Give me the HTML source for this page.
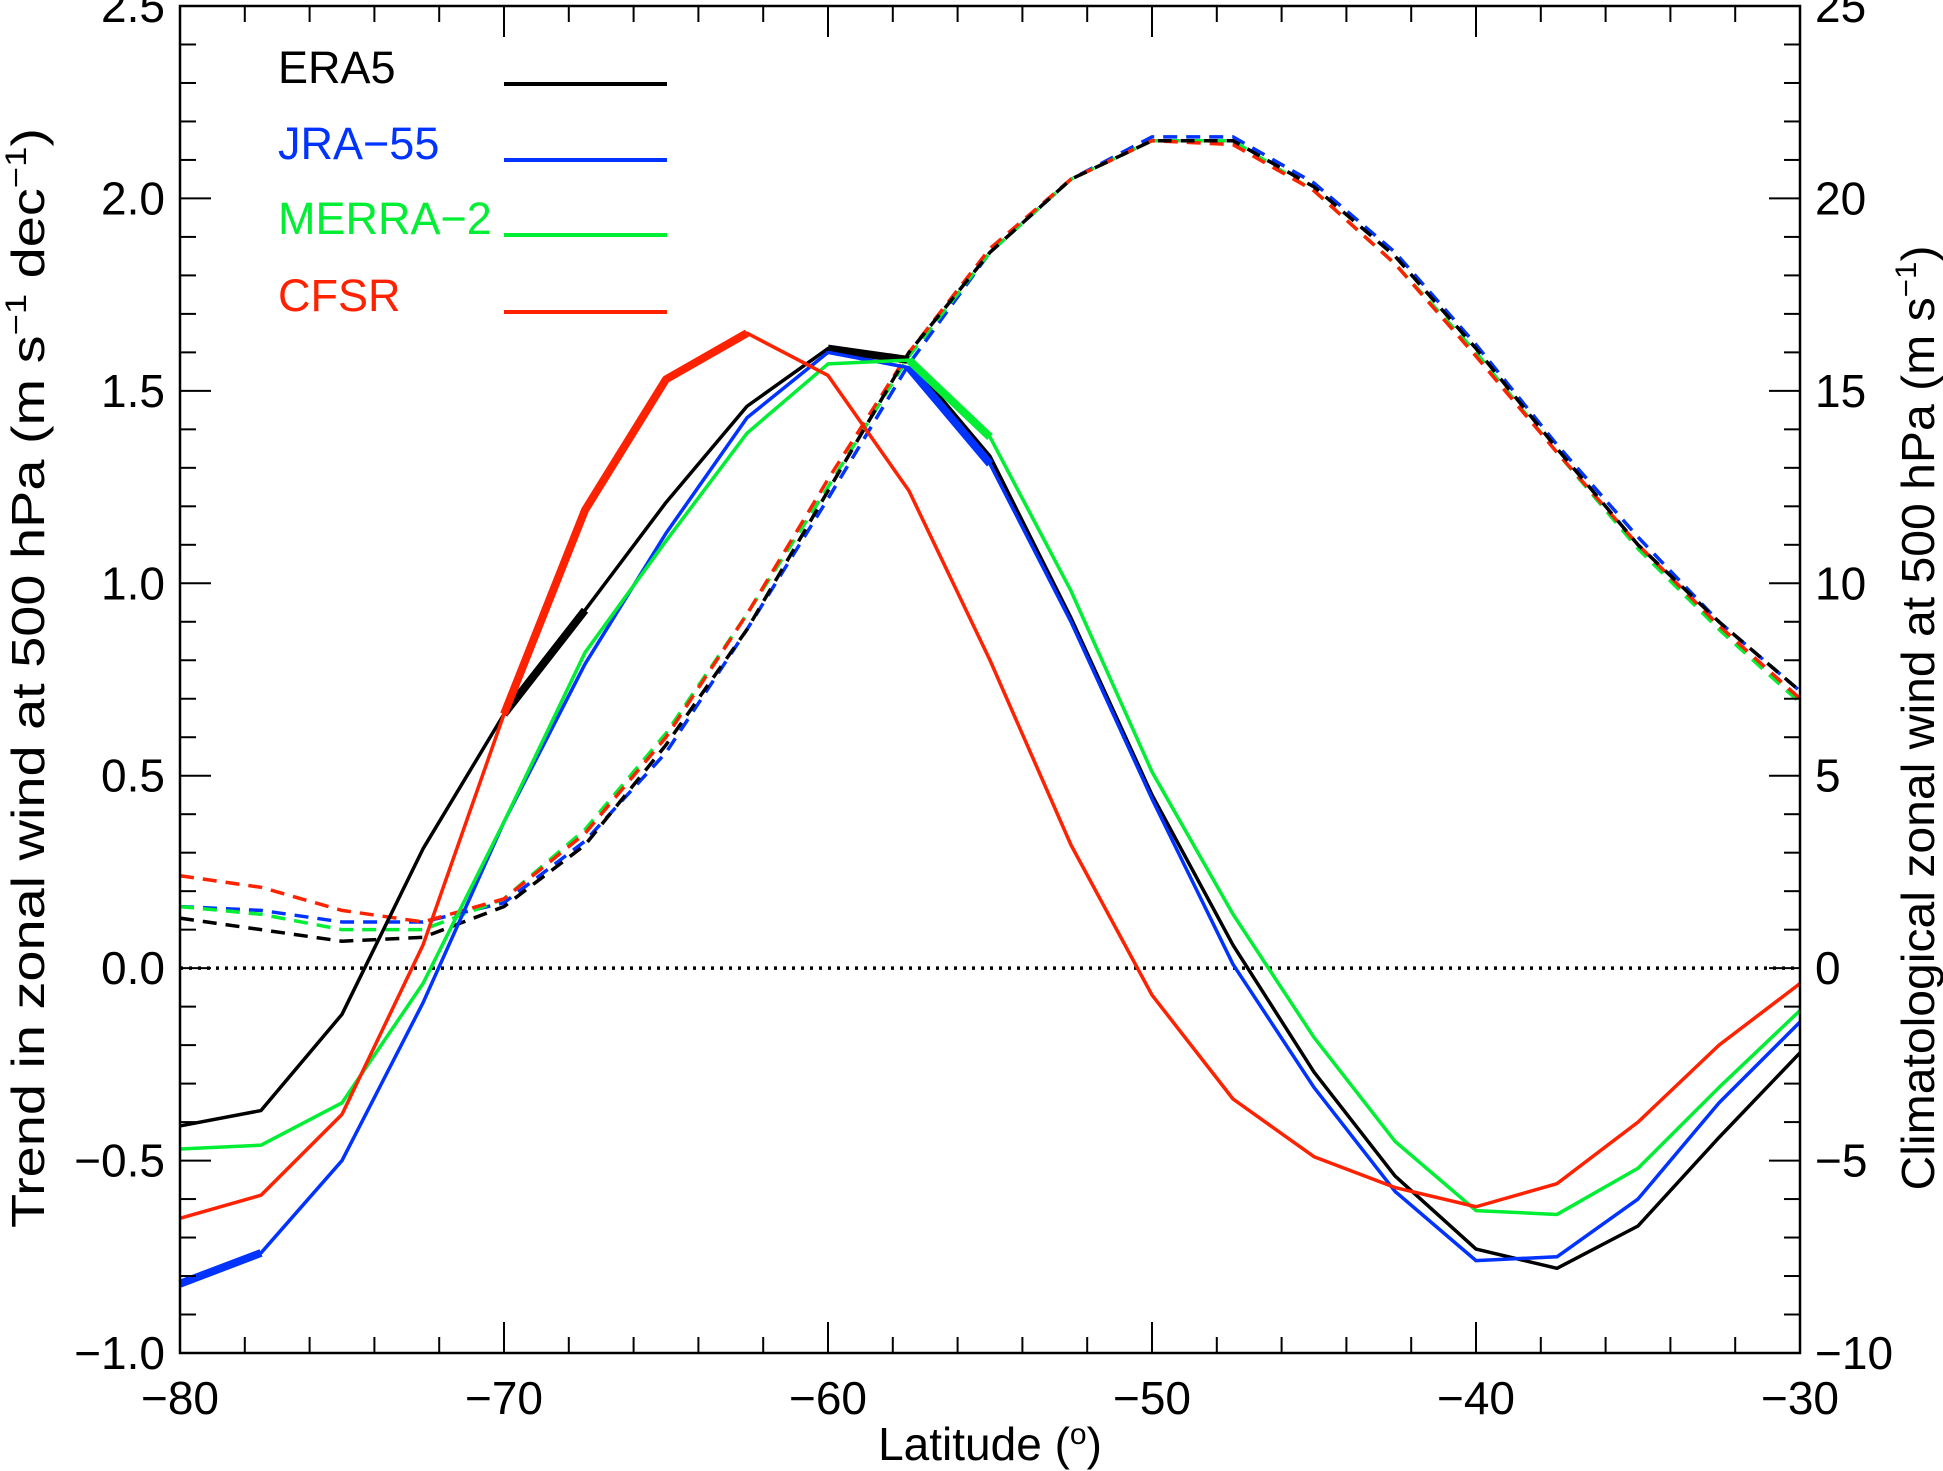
<!DOCTYPE html>
<html><head><meta charset="utf-8"><style>
html,body{margin:0;padding:0;background:#fff}
svg{display:block;font-family:"Liberation Sans",sans-serif}
</style></head><body>
<svg id="chart" width="1943" height="1471" viewBox="0 0 1943 1471" xmlns="http://www.w3.org/2000/svg">
</svg>
<script>
const lats = [-80,-77.5,-75,-72.5,-70,-67.5,-65,-62.5,-60,-57.5,-55,-52.5,-50,-47.5,-45,-42.5,-40,-37.5,-35,-32.5,-30];
const names = ["ERA5","JRA-55","MERRA-2","CFSR"];
const colors = ["#000000","#0033ff","#00ee33","#ff2200"];
const trendERA5 = [-0.41,-0.37,-0.12,0.31,0.66,0.93,1.21,1.46,1.61,1.58,1.33,0.91,0.45,0.06,-0.27,-0.54,-0.73,-0.78,-0.67,-0.44,-0.22];
const trendJRA = [-0.82,-0.74,-0.50,-0.09,0.38,0.79,1.13,1.43,1.60,1.56,1.31,0.90,0.44,0.01,-0.31,-0.58,-0.76,-0.75,-0.60,-0.35,-0.14];
const trendMERRA = [-0.47,-0.46,-0.35,-0.04,0.38,0.82,1.11,1.39,1.57,1.58,1.38,0.98,0.51,0.14,-0.18,-0.45,-0.63,-0.64,-0.52,-0.31,-0.11];
const trendCFSR = [-0.65,-0.59,-0.38,0.06,0.66,1.19,1.53,1.65,1.54,1.24,0.80,0.32,-0.07,-0.34,-0.49,-0.57,-0.62,-0.56,-0.40,-0.20,-0.04];
const climERA5 = [1.3,1.0,0.7,0.8,1.6,3.2,5.8,8.8,12.4,16.0,18.6,20.5,21.5,21.5,20.3,18.5,16.1,13.5,11.0,9.0,7.2];
const climJRA = [1.6,1.5,1.2,1.2,1.7,3.3,5.6,8.8,12.2,15.7,18.6,20.5,21.6,21.6,20.4,18.6,16.2,13.6,11.2,9.0,7.2];
const climMERRA = [1.6,1.4,1.0,1.0,1.8,3.6,6.1,9.2,12.5,15.9,18.6,20.5,21.5,21.5,20.2,18.3,16.0,13.4,10.9,8.8,6.9];
const climCFSR = [2.4,2.1,1.5,1.2,1.8,3.5,6.0,9.2,12.7,16.0,18.7,20.5,21.5,21.4,20.2,18.3,15.9,13.4,11.0,8.9,7.0];
const sigERA5 = [[4,5],[8,9]];
const sigJRA = [[0,1],[9,10]];
const sigMERRA = [[9,10]];
const sigCFSR = [[4,7]];
const xTicks = [-80,-70,-60,-50,-40,-30];
const yLeftTicks = ["-1.0","-0.5","0.0","0.5","1.0","1.5","2.0","2.5"];
const yRightTicks = [-10,-5,0,5,10,15,20,25];

const L=180,R=1800,T=6,B=1353;
const xS=v=>L+(v+80)/50*(R-L);
const yS=v=>B-(v+1)/3.5*(B-T);
const yR=v=>yS(v/10);
const NS="http://www.w3.org/2000/svg";
const svg=document.getElementById('chart');
function el(tag,attrs,parent){const e=document.createElementNS(NS,tag);for(const k in attrs)e.setAttribute(k,attrs[k]);(parent||svg).appendChild(e);return e;}

const z=el('line',{x1:L,x2:R,y1:yS(0),y2:yS(0),stroke:'#000','stroke-width':3.5,'stroke-dasharray':'3 6'});



const trends=[trendERA5,trendJRA,trendMERRA,trendCFSR];
const clims=[climERA5,climJRA,climMERRA,climCFSR];
const sigs=[sigERA5,sigJRA,sigMERRA,sigCFSR];
for(const i of [1,2,3,0]){
  const p=el('polyline',{points:lats.map((la,j)=>xS(la)+','+yR(clims[i][j])).join(' '),fill:'none',stroke:colors[i],'stroke-width':3.5,'stroke-dasharray':'14 9'});
  
  
}
for(const i of [0,1,2,3]){
  const p=el('polyline',{points:lats.map((la,j)=>xS(la)+','+yS(trends[i][j])).join(' '),fill:'none',stroke:colors[i],'stroke-width':3.5,'stroke-linejoin':'round'});
  
  
  for(const s of sigs[i]){
    const pts=[];for(let j=s[0];j<=s[1];j++)pts.push(xS(lats[j])+','+yS(trends[i][j]));
    const q=el('polyline',{points:pts.join(' '),fill:'none',stroke:colors[i],'stroke-width':8,'stroke-linejoin':'round'});
    
    
  }
}
const f=el('rect',{x:L,y:T,width:R-L,height:B-T,fill:'none',stroke:'#000','stroke-width':2.5});


for(let v=-80;v<=-30;v+=2){
  const maj=(v%10===0), len=maj?31:16;
  el('line',{x1:xS(v),x2:xS(v),y1:B,y2:B-len,stroke:'#000','stroke-width':2});
  el('line',{x1:xS(v),x2:xS(v),y1:T,y2:T+len,stroke:'#000','stroke-width':2});
}
for(const v of xTicks){
  const t=el('text',{x:xS(v),y:1414,'text-anchor':'middle','font-size':46});
  t.textContent=String(v).replace('-','\u2212');
  
  
}
for(let k=-10;k<=25;k++){
  const maj=(k%5===0), len=maj?31:16, y=yS(k/10);
  el('line',{x1:L,x2:L+len,y1:y,y2:y,stroke:'#000','stroke-width':2});
  el('line',{x1:R,x2:R-len,y1:y,y2:y,stroke:'#000','stroke-width':2});
}
yLeftTicks.forEach(s=>{
  const t=el('text',{x:165,y:yS(parseFloat(s))+16,'text-anchor':'end','font-size':46});
  t.textContent=s.replace('-','\u2212');
  
  
});
yRightTicks.forEach(v=>{
  const t=el('text',{x:1815,y:yR(v)+16,'text-anchor':'start','font-size':46});
  t.textContent=String(v).replace('-','\u2212');
  
  
});
let t=el('text',{x:990,y:1460,'text-anchor':'middle','font-size':46});
t.innerHTML='Latitude (<tspan dy="-16" font-size="30">o</tspan><tspan dy="16">)</tspan>';


t=el('text',{x:0,y:0,'text-anchor':'middle','font-size':46,transform:'translate(44,678) rotate(-90)',textLength:1100,lengthAdjust:'spacingAndGlyphs'});
t.innerHTML='Trend in zonal wind at 500 hPa (m s<tspan dy="-18" font-size="30">\u22121</tspan><tspan dy="18"> dec</tspan><tspan dy="-18" font-size="30">\u22121</tspan><tspan dy="18">)</tspan>';


t=el('text',{x:0,y:0,'text-anchor':'middle','font-size':46,transform:'translate(1934,718) rotate(-90)',textLength:945,lengthAdjust:'spacingAndGlyphs'});
t.innerHTML='Climatological zonal wind at 500 hPa (m s<tspan dy="-18" font-size="30">\u22121</tspan><tspan dy="18">)</tspan>';


const ly=[84,160,235,312];
names.forEach((n,i)=>{
  const tx=el('text',{x:278,y:ly[i]-1,'font-size':45,fill:colors[i]});
  tx.textContent=n.replace('-','\u2212');
  
  
  const ln=el('line',{x1:504,x2:667,y1:ly[i],y2:ly[i],stroke:colors[i],'stroke-width':4});
  
  
});
</script>
</body></html>
